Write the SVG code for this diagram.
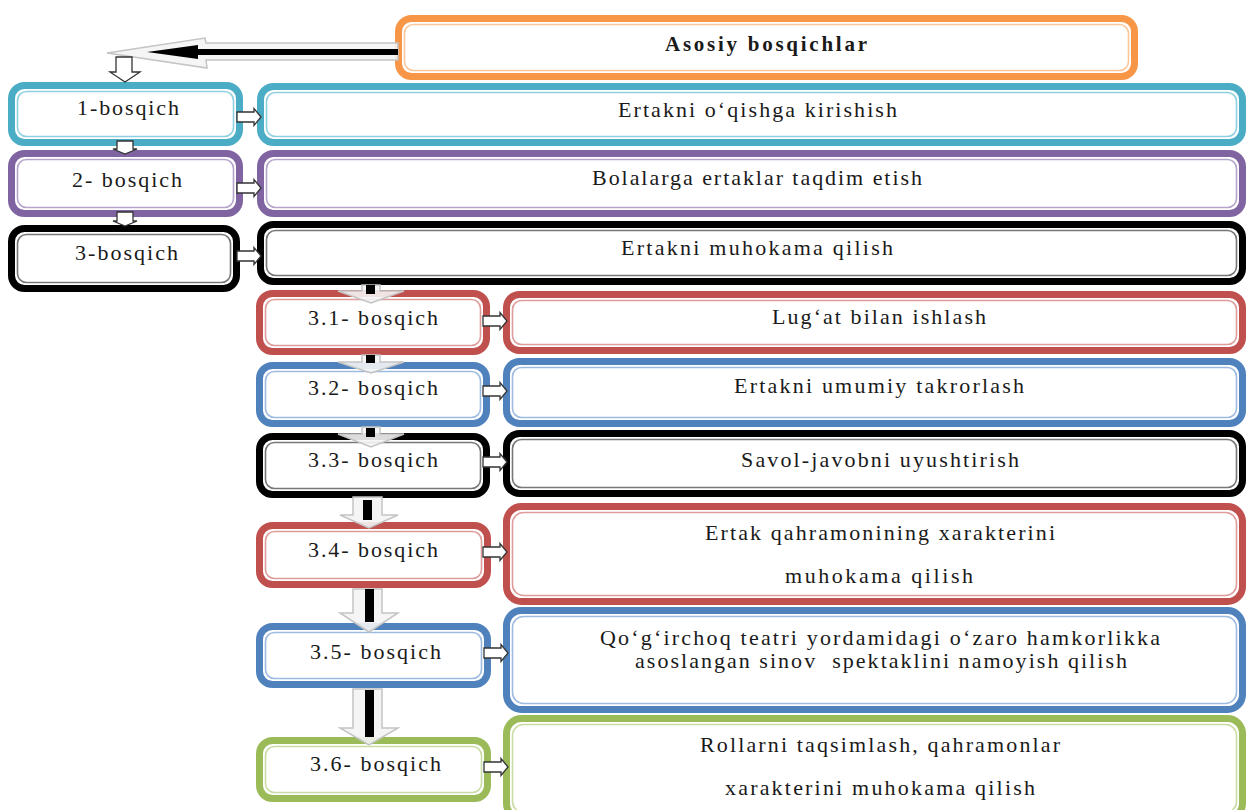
<svg xmlns="http://www.w3.org/2000/svg" width="1247" height="810" viewBox="0 0 1247 810">
<style>
  .o { fill: #fff; stroke-width: 7; }
  .i { fill: none; stroke-width: 1.6; }
  .t { font-family: "Liberation Serif", "Times New Roman", serif; font-size: 22px; fill: #1a1a1a; }
  .b { font-weight: bold; font-size: 21px; }
  .orange .o { stroke: #F79646; } .orange .i { stroke: #FBC79A; }
  .teal .o { stroke: #4BACC6; } .teal .i { stroke: #8ED0E0; }
  .purple .o { stroke: #8064A2; } .purple .i { stroke: #B6A5CB; }
  .black .o { stroke: #000; } .black .i { stroke: #777; }
  .red .o { stroke: #C0504D; } .red .i { stroke: #DE9C9A; }
  .blue .o { stroke: #4F81BD; } .blue .i { stroke: #9DBBE0; }
  .green .o { stroke: #9BBB59; } .green .i { stroke: #C8DCA3; }
  .wa { fill: #fff; stroke: #333; stroke-width: 1.3; }
  .ga { fill: #f4f4f4; fill-opacity: 0.9; stroke: #c4c4c4; stroke-width: 1.5; }
  .ks { fill: #000; }
</style>
<defs>
  <path id="ra" d="M0,-5 H17 V-8.5 L24,0 L17,8.5 V5 H0 Z"/>
</defs>

<g id="n-asosiy" class="orange">
  <rect class="o" x="398.5" y="18.5" width="736" height="58" rx="13"/>
  <rect class="i" x="404.5" y="24.5" width="724" height="46" rx="9"/>
  <text class="t b" x="665" y="51" textLength="202" lengthAdjust="spacing">Asosiy bosqichlar</text>
</g>

<g id="n-1" class="teal">
  <rect class="o" x="11.5" y="85.5" width="228" height="57" rx="13"/>
  <rect class="i" x="17.5" y="91.5" width="216" height="45" rx="9"/>
  <text class="t" x="77" y="115" textLength="102" lengthAdjust="spacing">1-bosqich</text>
</g>
<g id="n-1r" class="teal">
  <rect class="o" x="260.5" y="86.5" width="982" height="56" rx="13"/>
  <rect class="i" x="266.5" y="92.5" width="970" height="44" rx="9"/>
  <text class="t" x="618" y="117" textLength="279" lengthAdjust="spacing">Ertakni o‘qishga kirishish</text>
</g>

<g id="n-2" class="purple">
  <rect class="o" x="11.5" y="153.5" width="228" height="60" rx="13"/>
  <rect class="i" x="17.5" y="159.5" width="216" height="48" rx="9"/>
  <text class="t" x="72" y="187" textLength="110" lengthAdjust="spacing">2- bosqich</text>
</g>
<g id="n-2r" class="purple">
  <rect class="o" x="260.5" y="153.5" width="982" height="60" rx="13"/>
  <rect class="i" x="266.5" y="159.5" width="970" height="48" rx="9"/>
  <text class="t" x="592" y="185" textLength="330" lengthAdjust="spacing">Bolalarga ertaklar taqdim etish</text>
</g>

<g id="n-3" class="black">
  <rect class="o" x="11.5" y="228.5" width="225" height="60" rx="13"/>
  <rect class="i" x="17.5" y="234.5" width="213" height="48" rx="9"/>
  <text class="t" x="75" y="260" textLength="103" lengthAdjust="spacing">3-bosqich</text>
</g>
<g id="n-3r" class="black">
  <rect class="o" x="260.5" y="224.5" width="982" height="57" rx="13"/>
  <rect class="i" x="266.5" y="230.5" width="970" height="45" rx="9"/>
  <text class="t" x="621" y="255" textLength="272" lengthAdjust="spacing">Ertakni muhokama qilish</text>
</g>

<g id="n-31" class="red">
  <rect class="o" x="259.5" y="293.5" width="227" height="58" rx="13"/>
  <rect class="i" x="265.5" y="299.5" width="215" height="46" rx="9"/>
  <text class="t" x="308" y="325" textLength="130" lengthAdjust="spacing">3.1- bosqich</text>
</g>
<g id="n-31r" class="red">
  <rect class="o" x="506.5" y="294.5" width="736" height="56" rx="13"/>
  <rect class="i" x="512.5" y="300.5" width="724" height="44" rx="9"/>
  <text class="t" x="772" y="324" textLength="214" lengthAdjust="spacing">Lug‘at bilan ishlash</text>
</g>

<g id="n-32" class="blue">
  <rect class="o" x="259.5" y="365.5" width="227" height="58" rx="13"/>
  <rect class="i" x="265.5" y="371.5" width="215" height="46" rx="9"/>
  <text class="t" x="308" y="395" textLength="130" lengthAdjust="spacing">3.2- bosqich</text>
</g>
<g id="n-32r" class="blue">
  <rect class="o" x="506.5" y="361.5" width="736" height="62" rx="13"/>
  <rect class="i" x="512.5" y="367.5" width="724" height="50" rx="9"/>
  <text class="t" x="734" y="393" textLength="290" lengthAdjust="spacing">Ertakni umumiy takrorlash</text>
</g>

<g id="n-33" class="black">
  <rect class="o" x="259.5" y="436.5" width="227" height="58" rx="13"/>
  <rect class="i" x="265.5" y="442.5" width="215" height="46" rx="9"/>
  <text class="t" x="308" y="467" textLength="130" lengthAdjust="spacing">3.3- bosqich</text>
</g>
<g id="n-33r" class="black">
  <rect class="o" x="506.5" y="433.5" width="736" height="60" rx="13"/>
  <rect class="i" x="512.5" y="439.5" width="724" height="48" rx="9"/>
  <text class="t" x="741" y="467" textLength="278" lengthAdjust="spacing">Savol-javobni uyushtirish</text>
</g>

<g id="n-34" class="red">
  <rect class="o" x="259.5" y="525.5" width="228" height="59" rx="13"/>
  <rect class="i" x="265.5" y="531.5" width="216" height="47" rx="9"/>
  <text class="t" x="308" y="557" textLength="130" lengthAdjust="spacing">3.4- bosqich</text>
</g>
<g id="n-34r" class="red">
  <rect class="o" x="506.5" y="506.5" width="736" height="95" rx="15"/>
  <rect class="i" x="512.5" y="512.5" width="724" height="83" rx="11"/>
  <text class="t" x="705" y="540" textLength="350" lengthAdjust="spacing">Ertak qahramonining xarakterini</text>
  <text class="t" x="785" y="583" textLength="188" lengthAdjust="spacing">muhokama qilish</text>
</g>

<g id="n-35" class="blue">
  <rect class="o" x="259.5" y="626.5" width="228" height="58" rx="13"/>
  <rect class="i" x="265.5" y="632.5" width="216" height="46" rx="9"/>
  <text class="t" x="310" y="659" textLength="131" lengthAdjust="spacing">3.5- bosqich</text>
</g>
<g id="n-35r" class="blue">
  <rect class="o" x="506.5" y="610.5" width="736" height="99" rx="15"/>
  <rect class="i" x="512.5" y="616.5" width="724" height="87" rx="11"/>
  <text class="t" x="600" y="645" textLength="560" lengthAdjust="spacing">Qo‘g‘irchoq teatri yordamidagi o‘zaro hamkorlikka</text>
  <text class="t" x="635" y="668" textLength="492" lengthAdjust="spacing" xml:space="preserve">asoslangan sinov  spektaklini namoyish qilish</text>
</g>

<g id="n-36" class="green">
  <rect class="o" x="259.5" y="740.5" width="228" height="58" rx="13"/>
  <rect class="i" x="265.5" y="746.5" width="216" height="46" rx="9"/>
  <text class="t" x="310" y="771" textLength="131" lengthAdjust="spacing">3.6- bosqich</text>
</g>
<g id="n-36r" class="green">
  <rect class="o" x="506.5" y="718.5" width="736" height="100" rx="15"/>
  <rect class="i" x="512.5" y="724.5" width="724" height="88" rx="11"/>
  <text class="t" x="700" y="752" textLength="360" lengthAdjust="spacing">Rollarni taqsimlash, qahramonlar</text>
  <text class="t" x="725" y="795" textLength="310" lengthAdjust="spacing">xarakterini muhokama qilish</text>
</g>

<g id="connectors">
  <path class="ga" d="M398,43 H206 L205,38 L107,53 L207,68 L206,60 H398 Z"/>
  <path class="ks" d="M398,49 H198 V45 L147,52 L198,59 V55 H398 Z"/>
  <path class="wa" d="M116,57 H132 V72 H140 L125,82 L110,72 H116 Z"/>
  <path class="wa" d="M117,141 H133 V149 H137 L125,154 L113,149 H117 Z"/>
  <path class="wa" d="M117,212 H133 V221 H137 L125,226 L113,221 H117 Z"/>
  <use href="#ra" class="wa" x="237" y="117"/>
  <use href="#ra" class="wa" x="237" y="188"/>
  <use href="#ra" class="wa" x="237" y="256"/>
  <use href="#ra" class="wa" x="483" y="321"/>
  <use href="#ra" class="wa" x="483" y="391"/>
  <use href="#ra" class="wa" x="483" y="462"/>
  <use href="#ra" class="wa" x="483" y="552"/>
  <use href="#ra" class="wa" x="484" y="653"/>
  <use href="#ra" class="wa" x="484" y="767"/>
  <path class="ga" d="M362,285 H380 V291 H404 L371,303 L338,291 H362 Z"/>
  <rect class="ks" x="366" y="285" width="9" height="9"/>
  <path class="ga" d="M362,355 H380 V362 H404 L371,373 L338,362 H362 Z"/>
  <rect class="ks" x="366" y="355" width="9" height="8"/>
  <path class="ga" d="M362,427 H380 V434 H404 L371,447 L338,434 H362 Z"/>
  <rect class="ks" x="366" y="428" width="9" height="9"/>
  <path class="ga" d="M353,497 H382 V515 H398 L369,528 L340,515 H353 Z"/>
  <rect class="ks" x="363" y="500" width="9" height="20"/>
  <path class="ga" d="M353,589 H382 V613 H398 L369,632 L340,613 H353 Z"/>
  <rect class="ks" x="365" y="589" width="9" height="33"/>
  <path class="ga" d="M353,689 H382 V728 H398 L369,745 L340,728 H353 Z"/>
  <rect class="ks" x="365" y="690" width="9" height="47"/>
</g>
</svg>
